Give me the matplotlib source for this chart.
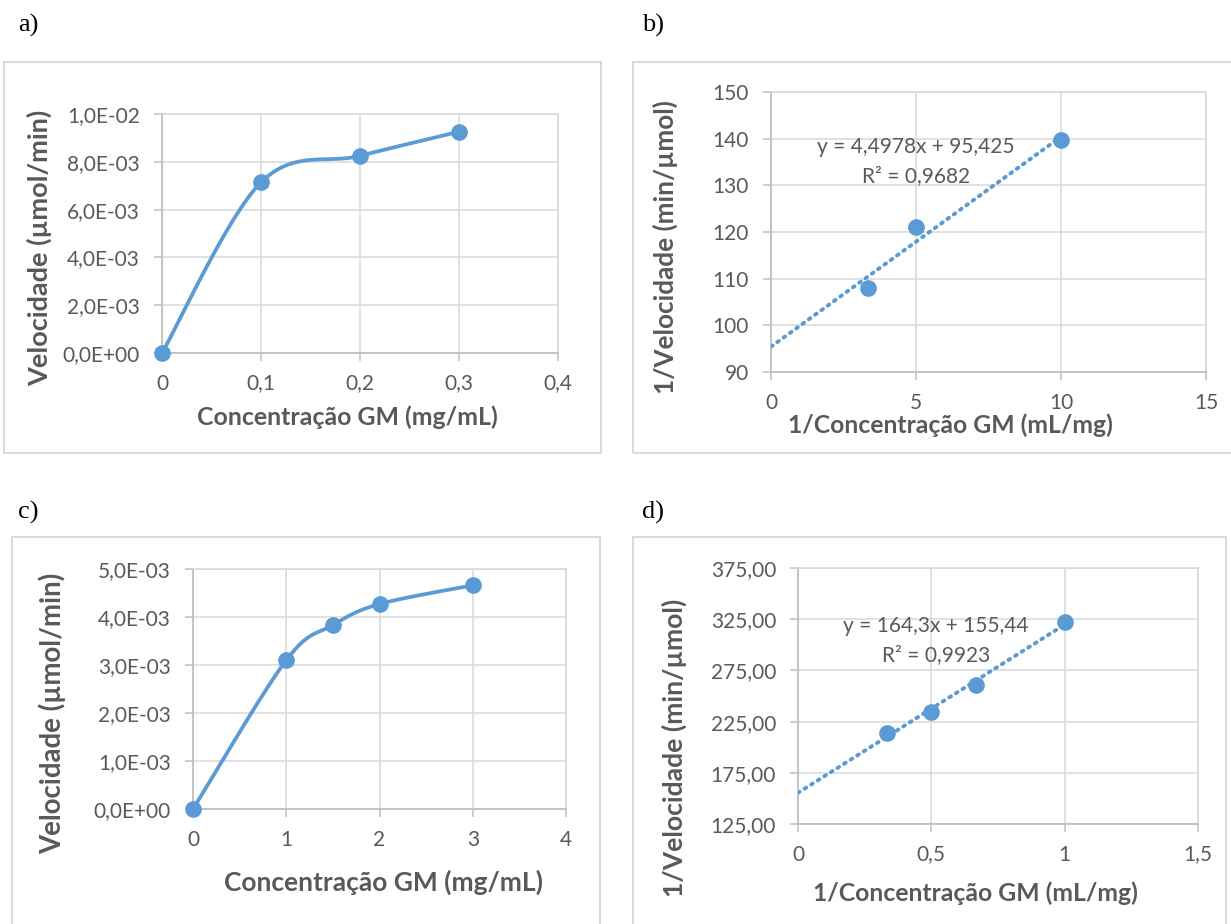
import numpy as np
import matplotlib
matplotlib.use("Agg")
import matplotlib.pyplot as plt
from matplotlib.patches import Rectangle
from matplotlib.ticker import FuncFormatter, FixedLocator

plt.rcParams['font.family'] = ['Lato', 'DejaVu Sans']

# ---------------- data ----------------
conc_a = [0.0, 0.1, 0.2, 0.3]
vel_a = [0.0, 7.14e-3, 8.25e-3, 9.26e-3]

inv_conc_b = [3.333, 5.0, 10.0]
inv_vel_b = [108.0, 121.1, 139.7]
fit_b = (4.4978, 95.425)
eq_b = ["y = 4,4978x + 95,425", "R² = 0,9682"]

conc_c = [0.0, 1.0, 1.5, 2.0, 3.0]
vel_c = [0.0, 3.10e-3, 3.83e-3, 4.27e-3, 4.66e-3]

inv_conc_d = [0.333, 0.5, 0.667, 1.0]
inv_vel_d = [214.3, 234.4, 261.0, 322.4]
fit_d = (164.3, 155.44)
eq_d = ["y = 164,3x + 155,44", "R² = 0,9923"]

xticks_a = [0, 0.1, 0.2, 0.3, 0.4]
yticks_a = [0, 2e-3, 4e-3, 6e-3, 8e-3, 1e-2]
xticks_b = [0, 5, 10, 15]
yticks_b = [90, 100, 110, 120, 130, 140, 150]
xticks_c = [0, 1, 2, 3, 4]
yticks_c = [0, 1e-3, 2e-3, 3e-3, 4e-3, 5e-3]
xticks_d = [0, 0.5, 1, 1.5]
yticks_d = [125, 175, 225, 275, 325, 375]

xlabel_ab = ["Concentração GM (mg/mL)", "1/Concentração GM (mL/mg)"]
ylabel_ab = ["Velocidade (µmol/min)", "1/Velocidade (min/µmol)"]
panel_labels = ["a)", "b)", "c)", "d)"]

# ---------------- style ----------------
W, H = 1231, 924
BLUE = "#5B9BD5"
TXT = "#595959"
GRID = "#D9D9D9"
AXC = "#BFBFBF"
TICK_FS = 15

fig = plt.figure(figsize=(W / 100, H / 100), dpi=100)


def px_axes(l, t, r, b):
    return fig.add_axes([l / W, 1 - b / H, (r - l) / W, (b - t) / H])


def ftext(x, y, s, **kw):
    fig.text(x / W, 1 - y / H, s, **kw)


def box(l, t, r, b):
    fig.patches.append(Rectangle((l / W, 1 - b / H), (r - l) / W, (b - t) / H,
                                 transform=fig.transFigure, fill=False,
                                 edgecolor=GRID, lw=1.4))


def comma(fmt):
    return FuncFormatter(lambda v, p: fmt(v).replace(".", ","))


def sci(v):
    if v == 0:
        return "0,0E+00"
    e = int(np.floor(np.log10(abs(v)) + 1e-9))
    m = v / 10 ** e
    return ("%.1fE%+03d" % (m, e)).replace(".", ",")


def style(ax, xt, yt, xfmt, yfmt):
    ax.set_xlim(xt[0], xt[-1])
    ax.set_ylim(yt[0], yt[-1])
    ax.xaxis.set_major_locator(FixedLocator(xt))
    ax.yaxis.set_major_locator(FixedLocator(yt))
    ax.xaxis.set_major_formatter(xfmt)
    ax.yaxis.set_major_formatter(yfmt)
    ax.grid(True, color=GRID, lw=1.1, zorder=0)
    ax.set_axisbelow(True)
    for s in ["top", "right"]:
        ax.spines[s].set_color(GRID)
        ax.spines[s].set_linewidth(1.1)
    for s in ["left", "bottom"]:
        ax.spines[s].set_color(AXC)
        ax.spines[s].set_linewidth(1.3)
    ax.tick_params(axis="both", direction="out", length=5.8, width=1.1,
                   color=AXC, labelcolor=TXT, labelsize=TICK_FS)
    ax.tick_params(axis="x", pad=9)
    ax.tick_params(axis="y", pad=10)


def smooth(x, y, n=40):
    x = np.asarray(x, float)
    y = np.asarray(y, float)
    P = np.column_stack([x, y])
    P = np.vstack([P[0], P, P[-1]])
    out = []
    for i in range(1, len(P) - 2):
        p0, p1, p2, p3 = P[i - 1], P[i], P[i + 1], P[i + 2]
        c1 = p1 + (p2 - p0) / 6
        c2 = p2 - (p3 - p1) / 6
        t = np.linspace(0, 1, n)[:, None]
        seg = ((1 - t) ** 3) * p1 + 3 * ((1 - t) ** 2) * t * c1 + 3 * (1 - t) * t ** 2 * c2 + t ** 3 * p2
        out.append(seg if i == 1 else seg[1:])
    S = np.vstack(out)
    return S[:, 0], S[:, 1]


def scatter_pts(ax, x, y):
    ax.plot(x, y, "o", color=BLUE, ms=11, zorder=5, clip_on=False)


def labels(xl, xpos, xfs, yl, ypos, yfs):
    ftext(xpos[0], xpos[1], xl, ha="center", va="center", fontsize=xfs,
          fontweight="bold", color=TXT)
    ftext(ypos[0], ypos[1], yl, ha="center", va="center", rotation=90,
          fontsize=yfs, fontweight="bold", color=TXT)


# ---------------- panel a ----------------
box(4, 62, 601, 453)
ax = px_axes(162, 114, 558, 353)
style(ax, xticks_a, yticks_a, comma(lambda v: "0" if v == 0 else "%.1f" % v),
      FuncFormatter(lambda v, p: sci(v)))
sx, sy = smooth(conc_a, vel_a)
ax.plot(sx, sy, color=BLUE, lw=2.7, zorder=4, solid_capstyle="round", clip_on=False)
scatter_pts(ax, conc_a, vel_a)
labels(xlabel_ab[0], (347, 417), 17.9, ylabel_ab[0], (39, 248), 19.5)

# ---------------- panel b ----------------
box(633, 62, 1233, 453)
ax = px_axes(771, 92, 1206, 372)
style(ax, xticks_b, yticks_b, comma(lambda v: "%d" % v), comma(lambda v: "%d" % v))
xl = np.array([0.0, max(inv_conc_b)])
ax.plot(xl, fit_b[0] * xl + fit_b[1], color=BLUE, lw=2.8, ls=(0, (0.5, 1.5)),
        dash_capstyle="round", zorder=3)
scatter_pts(ax, inv_conc_b, inv_vel_b)
ftext(916, 147, eq_b[0], ha="center", va="center", fontsize=TICK_FS, color=TXT)
ftext(916, 176, eq_b[1], ha="center", va="center", fontsize=TICK_FS, color=TXT)
labels(xlabel_ab[1], (950, 425), 17.8, ylabel_ab[1], (665, 247), 18.8)

# ---------------- panel c ----------------
box(12, 537, 600, 935)
ax = px_axes(193, 569, 566, 809)
style(ax, xticks_c, yticks_c, comma(lambda v: "%d" % v),
      FuncFormatter(lambda v, p: sci(v)))
sx, sy = smooth(conc_c, vel_c)
ax.plot(sx, sy, color=BLUE, lw=2.7, zorder=4, solid_capstyle="round", clip_on=False)
scatter_pts(ax, conc_c, vel_c)
labels(xlabel_ab[0], (383, 882), 19.0, ylabel_ab[0], (52, 713), 19.9)

# ---------------- panel d ----------------
box(633, 537, 1226, 935)
ax = px_axes(798, 568, 1198, 824)
style(ax, xticks_d, yticks_d,
      comma(lambda v: "%d" % v if float(v).is_integer() else "%.1f" % v),
      comma(lambda v: "%.2f" % v))
xl = np.array([0.0, max(inv_conc_d)])
ax.plot(xl, fit_d[0] * xl + fit_d[1], color=BLUE, lw=2.8, ls=(0, (0.5, 1.5)),
        dash_capstyle="round", zorder=3)
scatter_pts(ax, inv_conc_d, inv_vel_d)
ftext(936, 626, eq_d[0], ha="center", va="center", fontsize=TICK_FS, color=TXT)
ftext(936, 655, eq_d[1], ha="center", va="center", fontsize=TICK_FS, color=TXT)
labels(xlabel_ab[1], (975, 893), 17.8, ylabel_ab[1], (674, 748), 19.1)

# ---------------- panel letters ----------------
for (x, y), s in zip([(18, 25), (642, 25), (18, 512), (642, 512)], panel_labels):
    ftext(x, y, s, ha="left", va="center", fontsize=19,
          family=["Liberation Serif", "DejaVu Serif"], color="black")

fig.savefig("out.png", dpi=100)
